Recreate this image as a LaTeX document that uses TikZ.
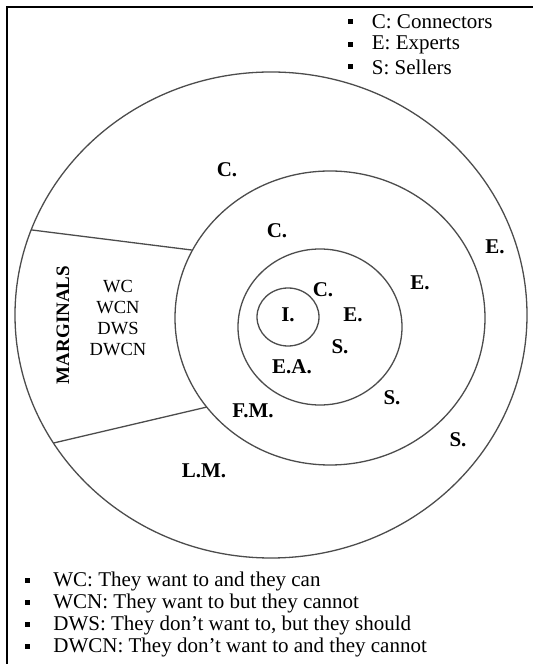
\documentclass[tikz,border=0pt]{standalone}
\usepackage{fontspec}
\setmainfont{Liberation Serif}
\usetikzlibrary{positioning, calc}

\begin{document}
\begin{tikzpicture}[
  x=1pt, y=1pt,
  ring/.style={draw=black!70, line width=1.3pt},
  lbl/.style={font=\fontsize{21}{23}\selectfont\bfseries, inner sep=0pt},
  key/.style={font=\fontsize{21}{23}\selectfont, inner sep=0pt},
  sq/.style={fill=black, minimum size=5pt, inner sep=0pt},
]
\useasboundingbox (0,0) rectangle (533,664);

% Frame
\draw[line width=1.6pt] (7,0) -- (7,657) -- (533,657);

% Rings
\coordinate (outer) at (271,349);
\coordinate (middle) at (330,346);
\coordinate (ea) at (320,337);
\coordinate (core) at (288,347);
\draw[ring] (outer) ellipse [x radius=256, y radius=243];
\draw[ring] (middle) ellipse [x radius=155, y radius=147];
\draw[ring] (ea) ellipse [x radius=82, y radius=78];
\draw[ring] (core) ellipse [x radius=31, y radius=29];

% Marginals sector
\coordinate (up-o) at ($(outer)+(159.5:256 and 243)$);
\coordinate (up-m) at ($(middle)+(152.5:155 and 147)$);
\coordinate (lo-o) at ($(outer)+(211.8:256 and 243)$);
\coordinate (lo-m) at ($(middle)+(217.3:155 and 147)$);
\draw[ring] (up-o) -- (up-m);
\draw[ring] (lo-o) -- (lo-m);

\node[lbl, font=\fontsize{19}{21}\selectfont\bfseries, rotate=90] (marg) at (63,339) {MARGINALS};
\node[font=\fontsize{18.5}{20.7}\selectfont, align=center, inner sep=0pt] (types) at (118,346) {WC\\WCN\\DWS\\DWCN};

% Ring labels
\node[lbl] (i) at (288,349) {I.};
\node[lbl] (c1) at (323,374) {C.};
\node[lbl] (e1) at (353,349) {E.};
\node[lbl] (s1) at (340,317) {S.};
\node[lbl] (eaa) at (292,297) {E.A.};
\node[lbl] (c2) at (277,433) {C.};
\node[lbl] (e2) at (420,381) {E.};
\node[lbl] (s2) at (392,266) {S.};
\node[lbl] (fm) at (253,253) {F.M.};
\node[lbl] (c3) at (227,494) {C.};
\node[lbl] (e3) at (495,417) {E.};
\node[lbl] (s3) at (458,224) {S.};
\node[lbl] (lm) at (204,193) {L.M.};

% Top legend
\node[sq] (b1) at (350,642) {};
\node[key, right=19pt of b1] (conn) {C: Connectors};
\node[sq] (b2) at (350,619.5) {};
\node[key, right=19pt of b2] (expt) {E: Experts};
\node[sq] (b3) at (350,597) {};
\node[key, right=19pt of b3] (sell) {S: Sellers};

% Bottom legend
\node[sq] (b4) at (27,83) {};
\node[key, right=23.5pt of b4] (wc) {WC: They want to and they can};
\node[sq] (b5) at (27,61) {};
\node[key, right=23.5pt of b5] (wcn) {WCN: They want to but they cannot};
\node[sq] (b6) at (27,39) {};
\node[key, right=23.5pt of b6] (dws) {DWS: They don’t want to, but they should};
\node[sq] (b7) at (27,17) {};
\node[key, right=23.5pt of b7] (dwcn) {DWCN: They don’t want to and they cannot};

\end{tikzpicture}
\end{document}
